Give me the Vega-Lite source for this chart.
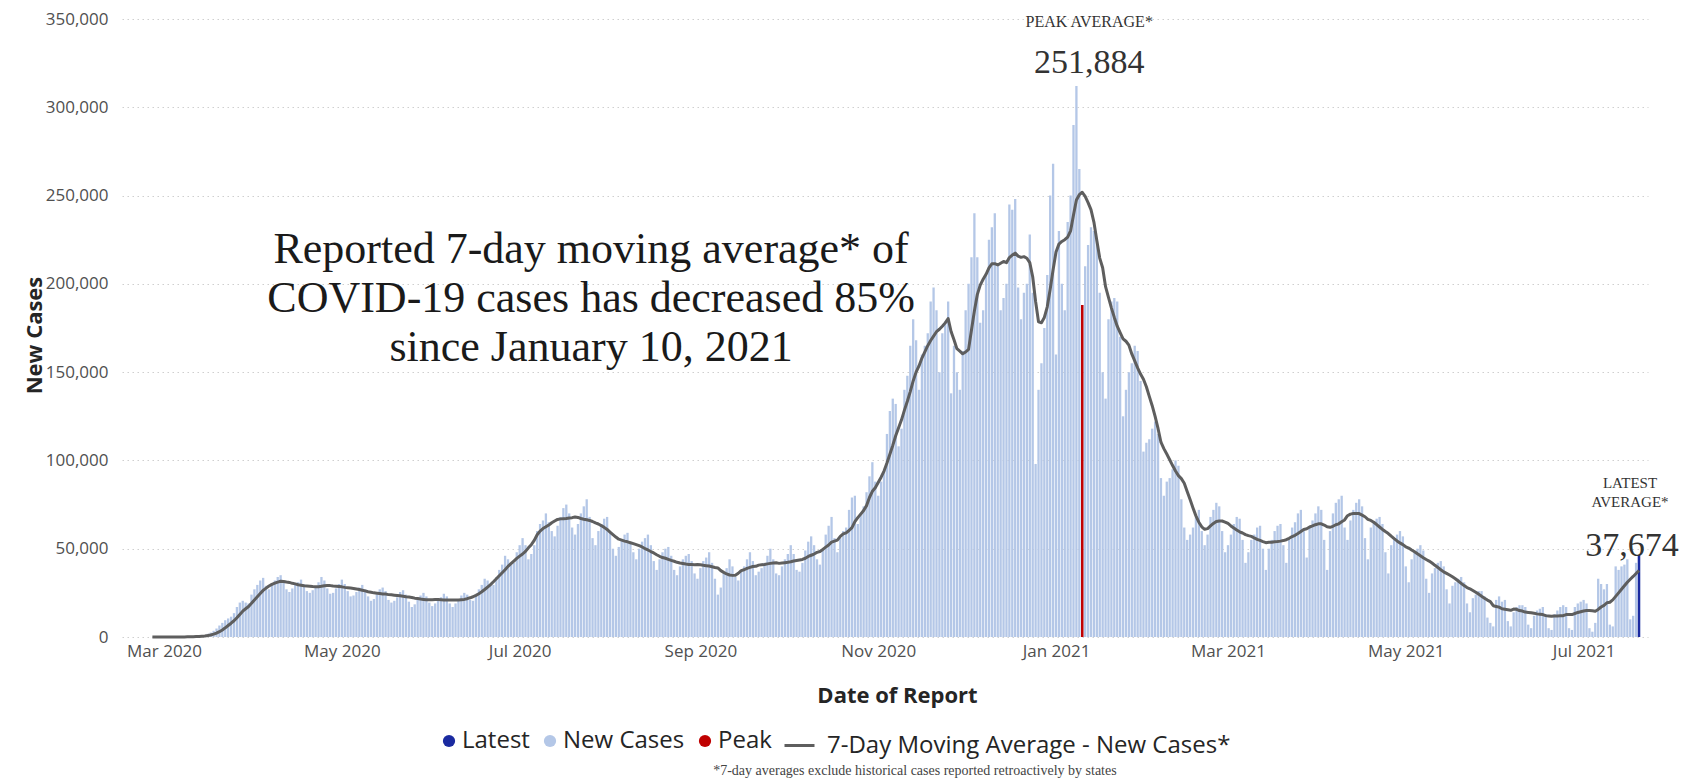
{
"$schema": "https://vega.github.io/schema/vega-lite/v6.json",
"width": 1526,
"height": 618,
"autosize": {"type": "none"},
"padding": {"left": 122, "top": 19, "right": 40, "bottom": 146},
"background": "#ffffff",
"config": {"view": {"stroke": null}, "axis": {"labelFont": "Open Sans", "titleFont": "Open Sans"}, "legend": {"labelFont": "Open Sans"}},
"datasets": {"cases": [
{"d":"2020-02-26","n":0,"a":0},{"d":"2020-02-27","n":0,"a":0},{"d":"2020-02-28","n":0,"a":0},{"d":"2020-02-29","n":0,"a":0},
{"d":"2020-03-01","n":20,"a":10},{"d":"2020-03-02","n":20,"a":10},{"d":"2020-03-03","n":30,"a":20},{"d":"2020-03-04","n":40,"a":20},{"d":"2020-03-05","n":60,"a":30},{"d":"2020-03-06","n":80,"a":40},{"d":"2020-03-07","n":100,"a":50},
{"d":"2020-03-08","n":150,"a":70},{"d":"2020-03-09","n":200,"a":100},{"d":"2020-03-10","n":300,"a":140},{"d":"2020-03-11","n":400,"a":180},{"d":"2020-03-12","n":500,"a":250},{"d":"2020-03-13","n":700,"a":330},{"d":"2020-03-14","n":900,"a":450},
{"d":"2020-03-15","n":1100,"a":600},{"d":"2020-03-16","n":1800,"a":850},{"d":"2020-03-17","n":2500,"a":1150},{"d":"2020-03-18","n":3500,"a":1600},{"d":"2020-03-19","n":4800,"a":2200},{"d":"2020-03-20","n":6500,"a":3000},{"d":"2020-03-21","n":8000,"a":4000},
{"d":"2020-03-22","n":9500,"a":5200},{"d":"2020-03-23","n":10500,"a":6500},{"d":"2020-03-24","n":11500,"a":7800},{"d":"2020-03-25","n":13500,"a":9200},{"d":"2020-03-26","n":17000,"a":10900},{"d":"2020-03-27","n":19500,"a":12800},{"d":"2020-03-28","n":20500,"a":14600},
{"d":"2020-03-29","n":19500,"a":16000},{"d":"2020-03-30","n":19000,"a":17300},{"d":"2020-03-31","n":24000,"a":19100},
{"d":"2020-04-01","n":27000,"a":21000},{"d":"2020-04-02","n":29500,"a":22800},{"d":"2020-04-03","n":32000,"a":24600},{"d":"2020-04-04","n":33500,"a":26400},
{"d":"2020-04-05","n":29000,"a":27700},{"d":"2020-04-06","n":27000,"a":28900},{"d":"2020-04-07","n":30500,"a":29800},{"d":"2020-04-08","n":32000,"a":30500},{"d":"2020-04-09","n":34000,"a":31100},{"d":"2020-04-10","n":35000,"a":31600},{"d":"2020-04-11","n":32000,"a":31400},
{"d":"2020-04-12","n":27000,"a":31100},{"d":"2020-04-13","n":25500,"a":30900},{"d":"2020-04-14","n":27500,"a":30400},{"d":"2020-04-15","n":29500,"a":30100},{"d":"2020-04-16","n":31000,"a":29600},{"d":"2020-04-17","n":32500,"a":29300},{"d":"2020-04-18","n":30000,"a":29000},
{"d":"2020-04-19","n":26000,"a":28900},{"d":"2020-04-20","n":25000,"a":28800},{"d":"2020-04-21","n":26500,"a":28600},{"d":"2020-04-22","n":28500,"a":28500},{"d":"2020-04-23","n":31000,"a":28500},{"d":"2020-04-24","n":34000,"a":28700},{"d":"2020-04-25","n":32000,"a":29000},
{"d":"2020-04-26","n":27500,"a":29200},{"d":"2020-04-27","n":24500,"a":29100},{"d":"2020-04-28","n":25000,"a":28900},{"d":"2020-04-29","n":27500,"a":28800},{"d":"2020-04-30","n":30000,"a":28600},
{"d":"2020-05-01","n":32500,"a":28400},{"d":"2020-05-02","n":30000,"a":28100},{"d":"2020-05-03","n":26000,"a":27900},{"d":"2020-05-04","n":23000,"a":27700},{"d":"2020-05-05","n":23500,"a":27500},{"d":"2020-05-06","n":25500,"a":27200},{"d":"2020-05-07","n":28000,"a":26900},
{"d":"2020-05-08","n":29500,"a":26500},{"d":"2020-05-09","n":27000,"a":26100},{"d":"2020-05-10","n":23000,"a":25600},{"d":"2020-05-11","n":20500,"a":25300},{"d":"2020-05-12","n":21500,"a":25000},{"d":"2020-05-13","n":24000,"a":24800},{"d":"2020-05-14","n":27000,"a":24600},
{"d":"2020-05-15","n":28000,"a":24400},{"d":"2020-05-16","n":26000,"a":24300},{"d":"2020-05-17","n":21000,"a":24000},{"d":"2020-05-18","n":19500,"a":23900},{"d":"2020-05-19","n":20500,"a":23700},{"d":"2020-05-20","n":22500,"a":23500},{"d":"2020-05-21","n":25500,"a":23300},
{"d":"2020-05-22","n":26500,"a":23100},{"d":"2020-05-23","n":24000,"a":22800},{"d":"2020-05-24","n":20000,"a":22600},{"d":"2020-05-25","n":17000,"a":22400},{"d":"2020-05-26","n":18500,"a":22000},{"d":"2020-05-27","n":21000,"a":21800},{"d":"2020-05-28","n":23500,"a":21500},
{"d":"2020-05-29","n":25000,"a":21300},{"d":"2020-05-30","n":23000,"a":21100},{"d":"2020-05-31","n":19500,"a":21100},
{"d":"2020-06-01","n":17500,"a":21100},{"d":"2020-06-02","n":19000,"a":21200},{"d":"2020-06-03","n":21000,"a":21200},{"d":"2020-06-04","n":22500,"a":21100},{"d":"2020-06-05","n":24500,"a":21000},{"d":"2020-06-06","n":23000,"a":21000},
{"d":"2020-06-07","n":19000,"a":20900},{"d":"2020-06-08","n":17000,"a":20900},{"d":"2020-06-09","n":19000,"a":20900},{"d":"2020-06-10","n":21500,"a":20900},{"d":"2020-06-11","n":23500,"a":21100},{"d":"2020-06-12","n":25000,"a":21300},{"d":"2020-06-13","n":24000,"a":21700},
{"d":"2020-06-14","n":21000,"a":22200},{"d":"2020-06-15","n":20500,"a":22800},{"d":"2020-06-16","n":23500,"a":23600},{"d":"2020-06-17","n":27000,"a":24500},{"d":"2020-06-18","n":29500,"a":25600},{"d":"2020-06-19","n":33000,"a":26900},{"d":"2020-06-20","n":32000,"a":28300},
{"d":"2020-06-21","n":29000,"a":29700},{"d":"2020-06-22","n":29500,"a":31300},{"d":"2020-06-23","n":34000,"a":33000},{"d":"2020-06-24","n":38000,"a":34700},{"d":"2020-06-25","n":41000,"a":36400},{"d":"2020-06-26","n":46000,"a":38100},{"d":"2020-06-27","n":44000,"a":40000},
{"d":"2020-06-28","n":41000,"a":41500},{"d":"2020-06-29","n":42000,"a":43000},{"d":"2020-06-30","n":48000,"a":44500},
{"d":"2020-07-01","n":52000,"a":45800},{"d":"2020-07-02","n":56000,"a":47000},{"d":"2020-07-03","n":52000,"a":48500},{"d":"2020-07-04","n":44000,"a":50500},
{"d":"2020-07-05","n":47000,"a":52300},{"d":"2020-07-06","n":52000,"a":54700},{"d":"2020-07-07","n":60000,"a":57900},{"d":"2020-07-08","n":64000,"a":60000},{"d":"2020-07-09","n":66000,"a":61400},{"d":"2020-07-10","n":70000,"a":62400},{"d":"2020-07-11","n":65000,"a":63400},
{"d":"2020-07-12","n":60000,"a":64700},{"d":"2020-07-13","n":57000,"a":65700},{"d":"2020-07-14","n":63000,"a":66600},{"d":"2020-07-15","n":68000,"a":66900},{"d":"2020-07-16","n":73000,"a":67000},{"d":"2020-07-17","n":75000,"a":67100},{"d":"2020-07-18","n":70000,"a":67400},
{"d":"2020-07-19","n":62000,"a":67600},{"d":"2020-07-20","n":58000,"a":68000},{"d":"2020-07-21","n":64000,"a":67700},{"d":"2020-07-22","n":70000,"a":67100},{"d":"2020-07-23","n":74000,"a":66700},{"d":"2020-07-24","n":78000,"a":66400},{"d":"2020-07-25","n":68000,"a":66000},
{"d":"2020-07-26","n":56000,"a":65400},{"d":"2020-07-27","n":52000,"a":64600},{"d":"2020-07-28","n":60000,"a":64000},{"d":"2020-07-29","n":64000,"a":63100},{"d":"2020-07-30","n":67000,"a":62100},{"d":"2020-07-31","n":68000,"a":60900},
{"d":"2020-08-01","n":60000,"a":59400},{"d":"2020-08-02","n":50000,"a":58000},{"d":"2020-08-03","n":46000,"a":56600},{"d":"2020-08-04","n":51000,"a":55400},{"d":"2020-08-05","n":55000,"a":54900},{"d":"2020-08-06","n":58000,"a":54300},{"d":"2020-08-07","n":59000,"a":53900},
{"d":"2020-08-08","n":53000,"a":53400},{"d":"2020-08-09","n":48000,"a":52900},{"d":"2020-08-10","n":44000,"a":52300},{"d":"2020-08-11","n":50000,"a":51700},{"d":"2020-08-12","n":54000,"a":51000},{"d":"2020-08-13","n":56000,"a":50100},{"d":"2020-08-14","n":58000,"a":49300},
{"d":"2020-08-15","n":52000,"a":48400},{"d":"2020-08-16","n":43000,"a":47600},{"d":"2020-08-17","n":38000,"a":46600},{"d":"2020-08-18","n":44000,"a":45700},{"d":"2020-08-19","n":48000,"a":45000},{"d":"2020-08-20","n":50000,"a":44600},{"d":"2020-08-21","n":51000,"a":44000},
{"d":"2020-08-22","n":46000,"a":43400},{"d":"2020-08-23","n":38000,"a":42900},{"d":"2020-08-24","n":35000,"a":42300},{"d":"2020-08-25","n":40000,"a":41900},{"d":"2020-08-26","n":44000,"a":41600},{"d":"2020-08-27","n":46000,"a":41300},{"d":"2020-08-28","n":47000,"a":41100},
{"d":"2020-08-29","n":43000,"a":41000},{"d":"2020-08-30","n":36000,"a":40900},{"d":"2020-08-31","n":33000,"a":41000},
{"d":"2020-09-01","n":39000,"a":40900},{"d":"2020-09-02","n":43000,"a":40600},{"d":"2020-09-03","n":45000,"a":40400},{"d":"2020-09-04","n":48000,"a":40200},{"d":"2020-09-05","n":42000,"a":39800},
{"d":"2020-09-06","n":33000,"a":39400},{"d":"2020-09-07","n":24000,"a":39100},{"d":"2020-09-08","n":28000,"a":37600},{"d":"2020-09-09","n":36000,"a":36600},{"d":"2020-09-10","n":39000,"a":35700},{"d":"2020-09-11","n":44000,"a":35100},{"d":"2020-09-12","n":40000,"a":34900},
{"d":"2020-09-13","n":34000,"a":35000},{"d":"2020-09-14","n":32000,"a":36100},{"d":"2020-09-15","n":38000,"a":37600},{"d":"2020-09-16","n":40000,"a":38100},{"d":"2020-09-17","n":44000,"a":38900},{"d":"2020-09-18","n":48000,"a":39400},{"d":"2020-09-19","n":43000,"a":39900},
{"d":"2020-09-20","n":35000,"a":40000},{"d":"2020-09-21","n":37000,"a":40700},{"d":"2020-09-22","n":39000,"a":40900},{"d":"2020-09-23","n":42000,"a":41100},{"d":"2020-09-24","n":46000,"a":41400},{"d":"2020-09-25","n":50000,"a":41700},{"d":"2020-09-26","n":44000,"a":41900},
{"d":"2020-09-27","n":36000,"a":42000},{"d":"2020-09-28","n":35000,"a":41700},{"d":"2020-09-29","n":40000,"a":41900},{"d":"2020-09-30","n":44000,"a":42100},
{"d":"2020-10-01","n":47000,"a":42300},{"d":"2020-10-02","n":52000,"a":42600},{"d":"2020-10-03","n":47000,"a":43000},
{"d":"2020-10-04","n":38000,"a":43300},{"d":"2020-10-05","n":37000,"a":43600},{"d":"2020-10-06","n":42000,"a":43900},{"d":"2020-10-07","n":49000,"a":44600},{"d":"2020-10-08","n":54000,"a":45600},{"d":"2020-10-09","n":57000,"a":46300},{"d":"2020-10-10","n":52000,"a":47000},
{"d":"2020-10-11","n":44000,"a":47900},{"d":"2020-10-12","n":41000,"a":48400},{"d":"2020-10-13","n":50000,"a":49600},{"d":"2020-10-14","n":58000,"a":50900},{"d":"2020-10-15","n":63000,"a":52100},{"d":"2020-10-16","n":68000,"a":53700},{"d":"2020-10-17","n":56000,"a":54300},
{"d":"2020-10-18","n":48000,"a":54900},{"d":"2020-10-19","n":56000,"a":57000},{"d":"2020-10-20","n":60000,"a":58400},{"d":"2020-10-21","n":62000,"a":59000},{"d":"2020-10-22","n":72000,"a":60300},{"d":"2020-10-23","n":79000,"a":61900},{"d":"2020-10-24","n":80000,"a":65300},
{"d":"2020-10-25","n":64000,"a":67600},{"d":"2020-10-26","n":70000,"a":69600},{"d":"2020-10-27","n":74000,"a":71600},{"d":"2020-10-28","n":82000,"a":74400},{"d":"2020-10-29","n":91000,"a":79000},{"d":"2020-10-30","n":99000,"a":82500},{"d":"2020-10-31","n":88000,"a":84500},
{"d":"2020-11-01","n":80000,"a":87500},{"d":"2020-11-02","n":88000,"a":90500},{"d":"2020-11-03","n":94000,"a":94000},{"d":"2020-11-04","n":115000,"a":98500},{"d":"2020-11-05","n":128000,"a":103500},{"d":"2020-11-06","n":135000,"a":108500},{"d":"2020-11-07","n":132000,"a":114000},
{"d":"2020-11-08","n":108000,"a":118500},{"d":"2020-11-09","n":118000,"a":123000},{"d":"2020-11-10","n":140000,"a":128500},{"d":"2020-11-11","n":148000,"a":133500},{"d":"2020-11-12","n":165000,"a":139000},{"d":"2020-11-13","n":180000,"a":145000},{"d":"2020-11-14","n":168000,"a":150000},
{"d":"2020-11-15","n":140000,"a":153500},{"d":"2020-11-16","n":160000,"a":158000},{"d":"2020-11-17","n":165000,"a":161500},{"d":"2020-11-18","n":172000,"a":165000},{"d":"2020-11-19","n":190000,"a":167900},{"d":"2020-11-20","n":198000,"a":170400},{"d":"2020-11-21","n":185000,"a":172900},
{"d":"2020-11-22","n":150000,"a":174300},{"d":"2020-11-23","n":172000,"a":176000},{"d":"2020-11-24","n":178000,"a":177900},{"d":"2020-11-25","n":190000,"a":180400},{"d":"2020-11-26","n":138000,"a":173000},{"d":"2020-11-27","n":165000,"a":168300},{"d":"2020-11-28","n":150000,"a":163300},
{"d":"2020-11-29","n":140000,"a":161900},{"d":"2020-11-30","n":162000,"a":160400},
{"d":"2020-12-01","n":185000,"a":161400},{"d":"2020-12-02","n":200000,"a":162900},{"d":"2020-12-03","n":215000,"a":173900},{"d":"2020-12-04","n":240000,"a":184600},{"d":"2020-12-05","n":215000,"a":193900},
{"d":"2020-12-06","n":178000,"a":199300},{"d":"2020-12-07","n":185000,"a":202600},{"d":"2020-12-08","n":205000,"a":205400},{"d":"2020-12-09","n":225000,"a":209000},{"d":"2020-12-10","n":232000,"a":211400},{"d":"2020-12-11","n":240000,"a":211400},{"d":"2020-12-12","n":210000,"a":210700},
{"d":"2020-12-13","n":185000,"a":211700},{"d":"2020-12-14","n":192000,"a":212700},{"d":"2020-12-15","n":200000,"a":212000},{"d":"2020-12-16","n":245000,"a":214900},{"d":"2020-12-17","n":242000,"a":216300},{"d":"2020-12-18","n":248000,"a":217400},{"d":"2020-12-19","n":198000,"a":215700},
{"d":"2020-12-20","n":180000,"a":215000},{"d":"2020-12-21","n":195000,"a":215400},{"d":"2020-12-22","n":200000,"a":214500},{"d":"2020-12-23","n":228000,"a":212000},{"d":"2020-12-24","n":195000,"a":204000},{"d":"2020-12-25","n":98000,"a":190000},{"d":"2020-12-26","n":140000,"a":178500},
{"d":"2020-12-27","n":155000,"a":178000},{"d":"2020-12-28","n":175000,"a":181000},{"d":"2020-12-29","n":205000,"a":187000},{"d":"2020-12-30","n":250000,"a":197000},{"d":"2020-12-31","n":268000,"a":208000},
{"d":"2021-01-01","n":160000,"a":218000},{"d":"2021-01-02","n":230000,"a":222500},
{"d":"2021-01-03","n":200000,"a":224000},{"d":"2021-01-04","n":185000,"a":225000},{"d":"2021-01-05","n":235000,"a":226500},{"d":"2021-01-06","n":250000,"a":230000},{"d":"2021-01-07","n":290000,"a":239000},{"d":"2021-01-08","n":312000,"a":247500},{"d":"2021-01-09","n":265000,"a":250500},
{"d":"2021-01-10","n":188000,"a":251884,"s":"Peak"},{"d":"2021-01-11","n":210000,"a":249500},{"d":"2021-01-12","n":222000,"a":246000},{"d":"2021-01-13","n":232000,"a":242000},{"d":"2021-01-14","n":230000,"a":235000},{"d":"2021-01-15","n":225000,"a":224600},{"d":"2021-01-16","n":195000,"a":214600},
{"d":"2021-01-17","n":150000,"a":209100},{"d":"2021-01-18","n":135000,"a":198400},{"d":"2021-01-19","n":180000,"a":192400},{"d":"2021-01-20","n":190000,"a":186400},{"d":"2021-01-21","n":192000,"a":181000},{"d":"2021-01-22","n":190000,"a":176000},{"d":"2021-01-23","n":170000,"a":172400},
{"d":"2021-01-24","n":125000,"a":168900},{"d":"2021-01-25","n":140000,"a":167500},{"d":"2021-01-26","n":150000,"a":165300},{"d":"2021-01-27","n":155000,"a":160300},{"d":"2021-01-28","n":165000,"a":156400},{"d":"2021-01-29","n":162000,"a":152400},{"d":"2021-01-30","n":145000,"a":148900},
{"d":"2021-01-31","n":105000,"a":146000},{"d":"2021-02-01","n":110000,"a":141700},{"d":"2021-02-02","n":112000,"a":136300},{"d":"2021-02-03","n":118000,"a":131000},{"d":"2021-02-04","n":122000,"a":124900},{"d":"2021-02-05","n":115000,"a":118100},{"d":"2021-02-06","n":90000,"a":110300},
{"d":"2021-02-07","n":80000,"a":106700},{"d":"2021-02-08","n":88000,"a":103600},{"d":"2021-02-09","n":90000,"a":100400},{"d":"2021-02-10","n":95000,"a":97100},{"d":"2021-02-11","n":100000,"a":94000},{"d":"2021-02-12","n":97000,"a":91400},{"d":"2021-02-13","n":78000,"a":89700},
{"d":"2021-02-14","n":62000,"a":87100},{"d":"2021-02-15","n":55000,"a":82400},{"d":"2021-02-16","n":58000,"a":77900},{"d":"2021-02-17","n":62000,"a":73100},{"d":"2021-02-18","n":68000,"a":68600},{"d":"2021-02-19","n":72000,"a":65000},{"d":"2021-02-20","n":60000,"a":62400},
{"d":"2021-02-21","n":52000,"a":61000},{"d":"2021-02-22","n":58000,"a":61400},{"d":"2021-02-23","n":68000,"a":62900},{"d":"2021-02-24","n":72000,"a":64300},{"d":"2021-02-25","n":76000,"a":65400},{"d":"2021-02-26","n":74000,"a":65700},{"d":"2021-02-27","n":60000,"a":65700},
{"d":"2021-02-28","n":48000,"a":65100},{"d":"2021-03-01","n":52000,"a":64300},{"d":"2021-03-02","n":58000,"a":62900},{"d":"2021-03-03","n":64000,"a":61700},{"d":"2021-03-04","n":68000,"a":60600},{"d":"2021-03-05","n":67000,"a":59600},{"d":"2021-03-06","n":55000,"a":58900},
{"d":"2021-03-07","n":42000,"a":58000},{"d":"2021-03-08","n":48000,"a":57400},{"d":"2021-03-09","n":55000,"a":57000},{"d":"2021-03-10","n":58000,"a":56100},{"d":"2021-03-11","n":62000,"a":55300},{"d":"2021-03-12","n":63000,"a":54700},{"d":"2021-03-13","n":50000,"a":54000},
{"d":"2021-03-14","n":38000,"a":53400},{"d":"2021-03-15","n":50000,"a":53700},{"d":"2021-03-16","n":55000,"a":53700},{"d":"2021-03-17","n":60000,"a":54000},{"d":"2021-03-18","n":63000,"a":54100},{"d":"2021-03-19","n":64000,"a":54300},{"d":"2021-03-20","n":52000,"a":54600},
{"d":"2021-03-21","n":42000,"a":55100},{"d":"2021-03-22","n":55000,"a":55900},{"d":"2021-03-23","n":62000,"a":56900},{"d":"2021-03-24","n":65000,"a":57600},{"d":"2021-03-25","n":70000,"a":58600},{"d":"2021-03-26","n":72000,"a":59700},{"d":"2021-03-27","n":60000,"a":60900},
{"d":"2021-03-28","n":45000,"a":61300},{"d":"2021-03-29","n":62000,"a":62300},{"d":"2021-03-30","n":66000,"a":62900},{"d":"2021-03-31","n":70000,"a":63600},{"d":"2021-04-01","n":74000,"a":64100},{"d":"2021-04-02","n":72000,"a":64100},{"d":"2021-04-03","n":55000,"a":63400},
{"d":"2021-04-04","n":38000,"a":62400},{"d":"2021-04-05","n":60000,"a":62100},{"d":"2021-04-06","n":70000,"a":62700},{"d":"2021-04-07","n":76000,"a":63600},{"d":"2021-04-08","n":78000,"a":64100},{"d":"2021-04-09","n":80000,"a":65300},{"d":"2021-04-10","n":62000,"a":66300},
{"d":"2021-04-11","n":55000,"a":68700},{"d":"2021-04-12","n":66000,"a":69600},{"d":"2021-04-13","n":72000,"a":69900},{"d":"2021-04-14","n":76000,"a":69900},{"d":"2021-04-15","n":78000,"a":69900},{"d":"2021-04-16","n":74000,"a":69000},{"d":"2021-04-17","n":56000,"a":68100},
{"d":"2021-04-18","n":44000,"a":66600},{"d":"2021-04-19","n":62000,"a":66000},{"d":"2021-04-20","n":65000,"a":65000},{"d":"2021-04-21","n":67000,"a":63700},{"d":"2021-04-22","n":68000,"a":62300},{"d":"2021-04-23","n":64000,"a":60900},{"d":"2021-04-24","n":48000,"a":59700},
{"d":"2021-04-25","n":36000,"a":58600},{"d":"2021-04-26","n":52000,"a":57100},{"d":"2021-04-27","n":55000,"a":55700},{"d":"2021-04-28","n":58000,"a":54400},{"d":"2021-04-29","n":60000,"a":53300},{"d":"2021-04-30","n":57000,"a":52300},{"d":"2021-05-01","n":40000,"a":51100},
{"d":"2021-05-02","n":31000,"a":50400},{"d":"2021-05-03","n":44000,"a":49300},{"d":"2021-05-04","n":48000,"a":48300},{"d":"2021-05-05","n":50000,"a":47100},{"d":"2021-05-06","n":52000,"a":46000},{"d":"2021-05-07","n":49000,"a":44900},{"d":"2021-05-08","n":33000,"a":43900},
{"d":"2021-05-09","n":25000,"a":43000},{"d":"2021-05-10","n":36000,"a":41900},{"d":"2021-05-11","n":39000,"a":40600},{"d":"2021-05-12","n":42000,"a":39400},{"d":"2021-05-13","n":43000,"a":38100},{"d":"2021-05-14","n":40000,"a":36900},{"d":"2021-05-15","n":27000,"a":36000},
{"d":"2021-05-16","n":19000,"a":35100},{"d":"2021-05-17","n":29000,"a":34100},{"d":"2021-05-18","n":31000,"a":33000},{"d":"2021-05-19","n":33000,"a":31700},{"d":"2021-05-20","n":34000,"a":30400},{"d":"2021-05-21","n":31000,"a":29100},{"d":"2021-05-22","n":19000,"a":28000},
{"d":"2021-05-23","n":14000,"a":27300},{"d":"2021-05-24","n":22000,"a":26300},{"d":"2021-05-25","n":24000,"a":25300},{"d":"2021-05-26","n":26000,"a":24300},{"d":"2021-05-27","n":26000,"a":23100},{"d":"2021-05-28","n":23000,"a":22000},{"d":"2021-05-29","n":11000,"a":20900},
{"d":"2021-05-30","n":8000,"a":20000},{"d":"2021-05-31","n":6000,"a":17700},{"d":"2021-06-01","n":21000,"a":17300},{"d":"2021-06-02","n":23000,"a":16900},{"d":"2021-06-03","n":20000,"a":16000},{"d":"2021-06-04","n":21000,"a":15700},{"d":"2021-06-05","n":9000,"a":15400},
{"d":"2021-06-06","n":6000,"a":15100},{"d":"2021-06-07","n":14000,"a":15800},{"d":"2021-06-08","n":17000,"a":15700},{"d":"2021-06-09","n":18000,"a":15000},{"d":"2021-06-10","n":18000,"a":14700},{"d":"2021-06-11","n":17000,"a":14100},{"d":"2021-06-12","n":7000,"a":13900},
{"d":"2021-06-13","n":5000,"a":13700},{"d":"2021-06-14","n":12000,"a":13400},{"d":"2021-06-15","n":15000,"a":13100},{"d":"2021-06-16","n":16000,"a":12900},{"d":"2021-06-17","n":17000,"a":12700},{"d":"2021-06-18","n":13000,"a":12100},{"d":"2021-06-19","n":5000,"a":11900},
{"d":"2021-06-20","n":4000,"a":11700},{"d":"2021-06-21","n":13000,"a":11900},{"d":"2021-06-22","n":15000,"a":11900},{"d":"2021-06-23","n":17000,"a":12000},{"d":"2021-06-24","n":18000,"a":12100},{"d":"2021-06-25","n":17000,"a":12700},{"d":"2021-06-26","n":5000,"a":12700},
{"d":"2021-06-27","n":4000,"a":12700},{"d":"2021-06-28","n":17000,"a":13300},{"d":"2021-06-29","n":19000,"a":13900},{"d":"2021-06-30","n":20000,"a":14300},{"d":"2021-07-01","n":21000,"a":14700},{"d":"2021-07-02","n":19000,"a":15000},{"d":"2021-07-03","n":5000,"a":15000},
{"d":"2021-07-04","n":3000,"a":14900},{"d":"2021-07-05","n":8000,"a":14600},{"d":"2021-07-06","n":33000,"a":15600},{"d":"2021-07-07","n":30000,"a":17000},{"d":"2021-07-08","n":27000,"a":17900},{"d":"2021-07-09","n":30000,"a":19400},{"d":"2021-07-10","n":7000,"a":19700},
{"d":"2021-07-11","n":6000,"a":21000},{"d":"2021-07-12","n":40000,"a":23000},{"d":"2021-07-13","n":38000,"a":25000},{"d":"2021-07-14","n":40000,"a":27000},{"d":"2021-07-15","n":41000,"a":29000},{"d":"2021-07-16","n":44000,"a":31000},{"d":"2021-07-17","n":10000,"a":32700},
{"d":"2021-07-18","n":12000,"a":34300},{"d":"2021-07-19","n":42000,"a":36000},{"d":"2021-07-20","n":46500,"a":37674,"s":"Latest"}
]},
"layer": [
  {
    "data": {"name": "cases"},
    "mark": {"type": "bar", "width": 2.3},
    "encoding": {
      "x": {
        "field": "d", "type": "temporal",
        "scale": {"type": "utc", "domain": [{"year": 2020, "month": 2, "date": 17, "hours": 7, "utc": true}, {"year": 2021, "month": 7, "date": 21, "hours": 9, "utc": true}]},
        "axis": {
          "values": [
            {"year": 2020, "month": 3, "date": 1, "utc": true}, {"year": 2020, "month": 5, "date": 1, "utc": true}, {"year": 2020, "month": 7, "date": 1, "utc": true},
            {"year": 2020, "month": 9, "date": 1, "utc": true}, {"year": 2020, "month": 11, "date": 1, "utc": true}, {"year": 2021, "month": 1, "date": 1, "utc": true},
            {"year": 2021, "month": 3, "date": 1, "utc": true}, {"year": 2021, "month": 5, "date": 1, "utc": true}, {"year": 2021, "month": 7, "date": 1, "utc": true}
          ],
          "format": "%b %Y",
          "labelFontSize": 17, "labelColor": "#505050", "labelPadding": 6, "labelFlush": false, "labelOverlap": false,
          "ticks": false, "domain": false, "grid": false,
          "title": "Date of Report", "titleFontSize": 22, "titleFontWeight": "bold", "titleColor": "#252525",
          "titleX": 775, "titleY": 58, "titleBaseline": "middle", "titleAlign": "center"
        }
      },
      "y": {
        "field": "n", "type": "quantitative", "title": "New Cases",
        "scale": {"domain": [0, 350000], "nice": false},
        "axis": {
          "values": [0, 50000, 100000, 150000, 200000, 250000, 300000, 350000], "format": ",d",
          "labelFontSize": 17, "labelColor": "#505050", "labelPadding": 14,
          "ticks": false, "domain": false, "grid": true, "gridColor": "#cfcfcf", "gridDash": [1.5, 3.5], "gridWidth": 1.2,
          "titleFontSize": 22, "titleFontWeight": "bold", "titleColor": "#252525",
          "titleX": -88, "titleY": 316, "titleAngle": -90, "titleBaseline": "middle", "titleAlign": "center"
        }
      },
      "fill": {
        "datum": "New Cases", "type": "nominal",
        "scale": {"domain": ["Latest", "New Cases", "Peak"], "range": ["#1a2aa0", "#b4c7e7", "#c00000"]},
        "legend": {
          "orient": "none", "legendX": 315, "legendY": 710, "direction": "horizontal", "title": null,
          "symbolType": "circle", "symbolSize": 150, "symbolStrokeWidth": 0, "symbolOpacity": 1,
          "labelFontSize": 24, "labelColor": "#252525", "labelOffset": 1, "columnPadding": 8, "labelLimit": 400, "padding": 0
        }
      }
    }
  },
  {
    "data": {"name": "cases"},
    "transform": [{"filter": "datum.s === 'Peak'"}],
    "mark": {"type": "bar", "width": 2.5},
    "encoding": {
      "x": {"field": "d", "type": "temporal"},
      "y": {"field": "n", "type": "quantitative", "title": "New Cases"},
      "fill": {"datum": "Peak", "type": "nominal"}
    }
  },
  {
    "data": {"name": "cases"},
    "transform": [{"filter": "datum.s === 'Latest'"}],
    "mark": {"type": "bar", "width": 2.5},
    "encoding": {
      "x": {"field": "d", "type": "temporal"},
      "y": {"field": "n", "type": "quantitative", "title": "New Cases"},
      "fill": {"datum": "Latest", "type": "nominal"}
    }
  },
  {
    "data": {"name": "cases"},
    "mark": {"type": "line", "strokeWidth": 3, "strokeJoin": "round"},
    "encoding": {
      "x": {"field": "d", "type": "temporal"},
      "y": {"field": "a", "type": "quantitative", "title": "New Cases"},
      "stroke": {
        "datum": "7-Day Moving Average - New Cases*", "type": "nominal",
        "scale": {"range": ["#5e5e5e"]},
        "legend": {
          "orient": "none", "legendX": 661, "legendY": 710, "title": null,
          "symbolType": "stroke", "symbolSize": 900, "symbolStrokeWidth": 3,
          "labelFontSize": 24, "labelColor": "#252525", "labelOffset": 11, "labelLimit": 600, "padding": 0
        }
      }
    }
  },
  {
    "data": {"name": "cases"},
    "transform": [{"filter": "datum.s === 'Peak'"}],
    "mark": {"type": "text", "font": "Liberation Serif", "fontSize": 34, "align": "center", "baseline": "middle", "color": "#333333", "dx": 7, "dy": -129},
    "encoding": {
      "x": {"field": "d", "type": "temporal"},
      "y": {"field": "a", "type": "quantitative", "title": "New Cases"},
      "text": {"field": "a", "type": "quantitative", "format": ","}
    }
  },
  {
    "data": {"name": "cases"},
    "transform": [{"filter": "datum.s === 'Peak'"}],
    "mark": {"type": "text", "font": "Liberation Serif", "fontSize": 16, "align": "center", "baseline": "middle", "color": "#333333", "dx": 7, "dy": -170},
    "encoding": {
      "x": {"field": "d", "type": "temporal"},
      "y": {"field": "a", "type": "quantitative", "title": "New Cases"},
      "text": {"value": "PEAK AVERAGE*"}
    }
  },
  {
    "data": {"name": "cases"},
    "transform": [{"filter": "datum.s === 'Latest'"}],
    "mark": {"type": "text", "font": "Liberation Serif", "fontSize": 34, "align": "center", "baseline": "middle", "color": "#333333", "dx": -7, "dy": -24},
    "encoding": {
      "x": {"field": "d", "type": "temporal"},
      "y": {"field": "a", "type": "quantitative", "title": "New Cases"},
      "text": {"field": "a", "type": "quantitative", "format": ","}
    }
  },
  {
    "data": {"name": "cases"},
    "transform": [{"filter": "datum.s === 'Latest'"}],
    "mark": {"type": "text", "font": "Liberation Serif", "fontSize": 15, "lineHeight": 19, "align": "center", "baseline": "middle", "color": "#333333", "dx": -9, "dy": -87},
    "encoding": {
      "x": {"field": "d", "type": "temporal"},
      "y": {"field": "a", "type": "quantitative", "title": "New Cases"},
      "text": {"value": ["LATEST", "AVERAGE*"]}
    }
  },
  {
    "data": {"values": [{}]},
    "mark": {"type": "text", "font": "Liberation Serif", "fontSize": 44, "lineHeight": 49, "align": "center", "baseline": "middle", "color": "#1a1a1a"},
    "encoding": {
      "x": {"datum": 1595678400000, "type": "temporal"},
      "y": {"datum": 219300, "type": "quantitative"},
      "text": {"value": ["Reported 7-day moving average* of", "COVID-19 cases has decreased 85%", "since January 10, 2021"]}
    }
  },
  {
    "data": {"values": [{}]},
    "mark": {"type": "text", "font": "Liberation Serif", "fontSize": 14, "align": "center", "baseline": "middle", "color": "#444444"},
    "encoding": {
      "x": {"datum": 1605277440000, "type": "temporal"},
      "y": {"datum": -75900, "type": "quantitative"},
      "text": {"value": "*7-day averages exclude historical cases reported retroactively by states"}
    }
  }
]
}
